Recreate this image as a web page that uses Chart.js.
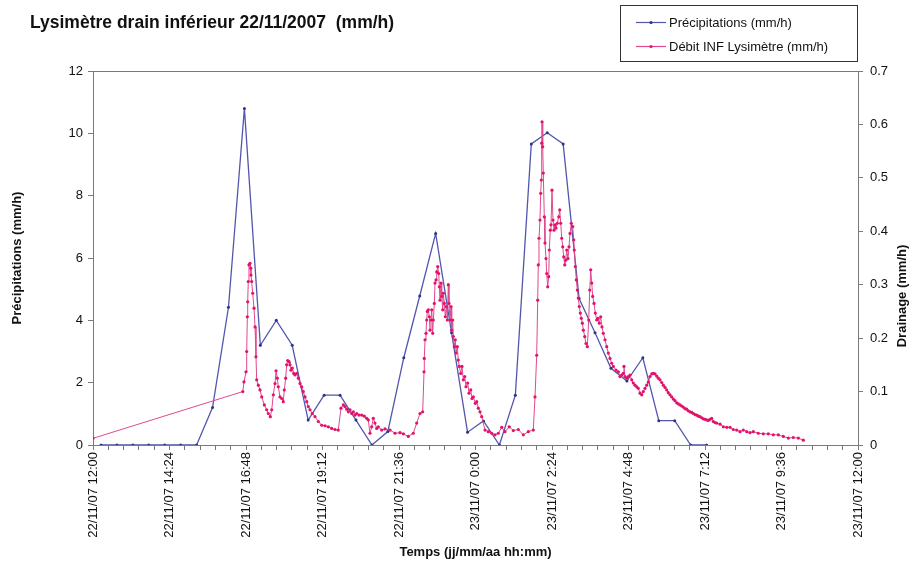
<!DOCTYPE html>
<html>
<head>
<meta charset="utf-8">
<script src="https://cdn.jsdelivr.net/npm/chart.js@4/dist/chart.umd.min.js"></script>
<style>
html,body{margin:0;padding:0;background:#fff;}
#wrap{width:912px;height:565px;}
</style>
</head>
<body>
<div id="wrap"><canvas id="c" width="912" height="565"></canvas></div>
<script>
const chartTitle = 'Lysimètre drain inférieur 22/11/2007  (mm/h)';
const seriesNames = ['Précipitations (mm/h)', 'Débit INF Lysimètre (mm/h)'];
const xTitle = 'Temps (jj/mm/aa hh:mm)';
const yLeftTitle = 'Précipitations (mm/h)';
const yRightTitle = 'Drainage (mm/h)';

// x axis: minutes since 22/11/07 12:00
const xTickLabels = ['22/11/07 12:00','22/11/07 14:24','22/11/07 16:48','22/11/07 19:12','22/11/07 21:36',
  '23/11/07 0:00','23/11/07 2:24','23/11/07 4:48','23/11/07 7:12','23/11/07 9:36','23/11/07 12:00'];

const precipTime = [15,45,75,105,135,165,195,225,255,285,315,345,375,405,435,465,495,525,555,585,
  615,645,675,705,735,765,795,825,855,885,915,945,975,1005,1035,1065,1095,1125,1155];
const precipValue = [0,0,0,0,0,0,0,1.2,4.42,10.8,3.2,4.0,3.2,0.8,1.6,1.6,0.8,0,0.43,2.8,
  4.78,6.79,3.6,0.41,0.77,0,1.6,9.66,10.02,9.66,4.7,3.6,2.46,2.05,2.8,0.78,0.78,0,0];

const drainTime = [0,282,284.2,288.0,289.3,290.5,291.2,292.3,293.6,295.5,296.9,297.4,298.7,300.6,303.1,305.0,306.8,308.1,311.2,314.4,
  317.6,322.5,327.0,330.0,333.8,336.4,339.4,342.6,344.5,346.9,348.8,352.0,355.2,358.2,360.1,362.7,364.6,366.5,369.0,370.8,
  372.7,375.2,377.8,380.2,383.4,386.5,389.7,392.9,395.9,399.1,402.3,405.3,408.5,412.8,417.9,424.1,430.5,436.7,442.9,449.3,
  455.5,461.7,466.8,471.2,474.4,477.6,480.6,483.8,487.0,490.0,493.2,496.4,500.7,505.8,510.7,515.2,518.2,521.4,524.6,527.6,
  530.8,534.0,537.1,543.4,549.7,559.1,568.5,577.9,584.1,593.5,602.9,609.3,615.5,620.6,623.1,623.6,625.0,626.8,628.1,629.3,
  631.2,633.0,634.4,636.2,637.6,639.4,640.6,642.5,643.8,645.7,647.0,648.9,650.7,651.9,653.2,655.1,656.4,658.3,659.4,661.3,
  663.2,665.1,667.0,668.8,670.1,672.0,673.9,675.2,677.1,678.2,680.1,682.0,683.3,685.8,687.6,689.5,692.2,694.6,697.1,699.7,
  702.1,705.3,707.8,711.0,713.4,715.9,719.6,722.3,725.3,728.5,731.7,737.9,744.1,750.5,756.7,762.9,769.3,775.5,783.6,791.2,
  800.6,810.0,819.4,828.8,832.0,835.2,837.1,838.2,839.5,841.4,842.7,843.9,844.6,845.2,846.5,847.6,849.5,850.8,852.7,854.0,
  855.9,857.8,858.9,860.8,862.1,864.0,865.9,867.8,869.7,871.6,874.0,876.7,878.5,880.4,882.3,884.2,886.1,888.0,889.8,891.7,
  894.1,896.0,897.9,900.4,903.0,904.9,906.0,907.9,909.8,911.7,913.5,915.4,917.3,919.2,921.1,923.0,925.6,928.0,930.5,933.1,
  935.0,936.9,938.8,940.6,943.1,945.5,948.2,950.6,953.1,955.7,958.1,960.6,963.8,967.0,970.0,973.2,976.4,979.4,984.5,988.9,
  992.0,995.2,998.2,999.5,1001.4,1004.6,1007.6,1010.8,1014.0,1017.0,1020.2,1023.4,1026.4,1029.7,1032.9,1035.9,1039.1,1042.3,1045.3,1048.5,
  1051.7,1054.7,1057.9,1061.1,1064.2,1067.3,1070.5,1073.5,1076.7,1079.9,1082.9,1086.1,1089.3,1092.4,1095.5,1098.7,1101.7,1104.9,1108.1,1111.1,
  1114.3,1117.5,1120.5,1123.8,1127.0,1130.0,1133.2,1136.4,1139.4,1142.6,1145.8,1148.8,1152.0,1155.2,1158.3,1161.4,1164.6,1167.6,1170.8,1174.0,
  1180.3,1186.5,1192.9,1199.1,1205.3,1211.7,1217.9,1224.1,1230.5,1236.7,1242.9,1252.3,1261.7,1271.1,1280.6,1290.0,1299.4,1308.8,1318.2,1327.6,
  1337.1];
const drainValue = [0.0125,0.100,0.118,0.137,0.175,0.240,0.268,0.306,0.337,0.340,0.331,0.318,0.306,0.284,0.256,0.221,0.165,0.122,0.112,0.103,
  0.090,0.075,0.066,0.059,0.053,0.066,0.094,0.115,0.139,0.125,0.109,0.090,0.087,0.081,0.103,0.125,0.150,0.158,0.156,0.150,
  0.140,0.144,0.134,0.131,0.134,0.125,0.115,0.109,0.100,0.090,0.081,0.072,0.066,0.059,0.053,0.044,0.037,0.036,0.034,0.031,
  0.029,0.028,0.069,0.075,0.072,0.067,0.062,0.066,0.059,0.062,0.056,0.059,0.056,0.056,0.054,0.050,0.047,0.022,0.034,0.050,
  0.041,0.031,0.034,0.028,0.030,0.028,0.022,0.023,0.021,0.016,0.022,0.041,0.059,0.062,0.137,0.162,0.197,0.209,0.234,0.250,
  0.253,0.240,0.215,0.234,0.253,0.209,0.234,0.265,0.303,0.309,0.324,0.334,0.321,0.296,0.271,0.303,0.278,0.253,0.284,0.265,
  0.240,0.259,0.234,0.300,0.265,0.234,0.259,0.215,0.234,0.203,0.184,0.197,0.172,0.184,0.159,0.147,0.134,0.147,0.122,0.128,
  0.109,0.116,0.097,0.103,0.087,0.090,0.078,0.081,0.069,0.062,0.053,0.028,0.025,0.022,0.019,0.022,0.033,0.025,0.034,0.027,
  0.029,0.019,0.025,0.028,0.090,0.168,0.271,0.337,0.387,0.421,0.471,0.496,0.565,0.605,0.558,0.509,0.427,0.378,0.349,0.321,
  0.296,0.315,0.365,0.402,0.412,0.477,0.421,0.402,0.412,0.406,0.415,0.427,0.440,0.415,0.387,0.371,0.352,0.337,0.346,0.365,
  0.349,0.371,0.396,0.415,0.409,0.384,0.365,0.334,0.309,0.290,0.275,0.259,0.247,0.237,0.228,0.215,0.203,0.190,0.184,0.234,
  0.290,0.328,0.303,0.278,0.265,0.247,0.234,0.237,0.228,0.240,0.221,0.209,0.197,0.184,0.172,0.162,0.153,0.147,0.140,0.137,
  0.128,0.131,0.134,0.147,0.128,0.125,0.128,0.131,0.122,0.116,0.112,0.109,0.106,0.097,0.094,0.100,0.106,0.112,0.118,0.128,
  0.133,0.134,0.133,0.129,0.125,0.122,0.117,0.112,0.108,0.103,0.098,0.094,0.090,0.086,0.083,0.079,0.077,0.075,0.073,0.071,
  0.068,0.067,0.064,0.062,0.061,0.059,0.057,0.056,0.054,0.053,0.051,0.049,0.048,0.047,0.046,0.048,0.050,0.044,0.042,0.041,
  0.039,0.034,0.033,0.033,0.029,0.028,0.025,0.028,0.025,0.023,0.025,0.022,0.021,0.021,0.019,0.019,0.016,0.013,0.014,0.013,
  0.009];

const FONT = '"Liberation Sans", Arial, sans-serif';
Chart.defaults.font.family = FONT;
Chart.defaults.color = '#111';

const BLUE_LINE = '#5257ad', BLUE_PT = '#2f3380';
const PINK_LINE = '#e0488e', PINK_PT = '#e3126a';
const AXIS = '#7a7a7a';

const overlay = {
  id: 'overlay',
  afterDraw(chart) {
    const ctx = chart.ctx;
    ctx.save();
    // title
    ctx.fillStyle = '#111';
    ctx.font = 'bold 17.5px ' + FONT;
    ctx.textAlign = 'left';
    ctx.textBaseline = 'alphabetic';
    ctx.fillText(chartTitle, 30, 28);
    // legend box
    ctx.fillStyle = '#fff';
    ctx.fillRect(620.5, 5.5, 237, 56);
    ctx.strokeStyle = '#333';
    ctx.lineWidth = 1;
    ctx.strokeRect(620.5, 5.5, 237, 56);
    const rows = [[22, BLUE_LINE, BLUE_PT], [46, PINK_LINE, PINK_PT]];
    ctx.font = '13px ' + FONT;
    ctx.textBaseline = 'middle';
    rows.forEach((r, i) => {
      ctx.strokeStyle = r[1];
      ctx.lineWidth = 1.2;
      ctx.beginPath(); ctx.moveTo(636, r[0] + 0.5); ctx.lineTo(666, r[0] + 0.5); ctx.stroke();
      ctx.fillStyle = r[2];
      ctx.beginPath(); ctx.arc(651, r[0] + 0.5, 1.6, 0, Math.PI * 2); ctx.fill();
      ctx.fillStyle = '#111';
      ctx.fillText(seriesNames[i], 669, r[0] + 1);
    });
    // right axis title (reads bottom to top)
    ctx.translate(902, 296);
    ctx.rotate(-Math.PI / 2);
    ctx.textAlign = 'center';
    ctx.textBaseline = 'middle';
    ctx.font = 'bold 13px ' + FONT;
    ctx.fillStyle = '#111';
    ctx.fillText(yRightTitle, 0, 0);
    ctx.restore();
  }
};

new Chart(document.getElementById('c'), {
  type: 'line',
  data: {
    datasets: [
      {
        label: seriesNames[0],
        data: precipTime.map((t, i) => ({x: t, y: precipValue[i]})),
        yAxisID: 'y',
        borderColor: BLUE_LINE,
        borderWidth: 1.3,
        pointRadius: 1.5,
        pointBackgroundColor: BLUE_PT,
        pointBorderWidth: 0,
        tension: 0,
        order: 1
      },
      {
        label: seriesNames[1],
        data: drainTime.map((t, i) => ({x: t, y: drainValue[i]})),
        yAxisID: 'y2',
        borderColor: PINK_LINE,
        borderWidth: 1,
        pointRadius: 1.6,
        pointBackgroundColor: PINK_PT,
        pointBorderWidth: 0,
        tension: 0,
        order: 0
      }
    ]
  },
  options: {
    responsive: false,
    animation: false,
    devicePixelRatio: 1,
    layout: {padding: {top: 71, left: 0, right: 0, bottom: 0}},
    plugins: {legend: {display: false}, title: {display: false}, tooltip: {enabled: false}},
    scales: {
      x: {
        type: 'linear', min: 0, max: 1440,
        afterFit(s) { s.height = 120; },
        ticks: {
          stepSize: 28.8, autoSkip: false, minRotation: 90, maxRotation: 90, padding: 2,
          font: {size: 13}, color: '#111',
          callback: (v, i) => (i % 5 === 0 ? xTickLabels[i / 5] : '')
        },
        grid: {drawOnChartArea: false, color: AXIS, tickLength: 5},
        border: {color: AXIS},
        title: {display: true, text: xTitle, font: {size: 13, weight: 'bold'}, padding: {top: 0, bottom: 5}, color: '#111'}
      },
      y: {
        position: 'left', min: 0, max: 12,
        afterFit(s) { s.width = 93; },
        ticks: {stepSize: 2, padding: 5, font: {size: 13}, color: '#111'},
        grid: {
          color: c => (c.tick && c.tick.value === 12 ? AXIS : 'rgba(0,0,0,0)'),
          tickColor: AXIS, tickLength: 5
        },
        border: {color: AXIS},
        title: {display: true, text: yLeftTitle, font: {size: 13, weight: 'bold'}, padding: {top: 10, bottom: 0}, color: '#111'}
      },
      y2: {
        position: 'right', min: 0, max: 0.7,
        afterFit(s) { s.width = 54; },
        ticks: {stepSize: 0.1, padding: 7, font: {size: 13}, color: '#111',
          callback: v => (v === 0 ? '0' : v.toFixed(1))},
        grid: {drawOnChartArea: false, color: AXIS, tickLength: 5},
        border: {color: AXIS}
      }
    }
  },
  plugins: [overlay]
});
</script>
</body>
</html>
